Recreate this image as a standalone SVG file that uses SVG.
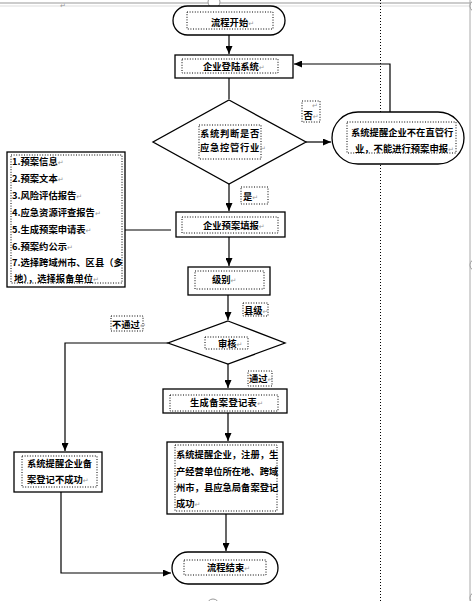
<svg xmlns="http://www.w3.org/2000/svg" width="472" height="601" viewBox="0 0 472 601">
<style>
.box{fill:#fff;stroke:#000;stroke-width:1.3}
.in{fill:none;stroke:#000;stroke-width:1;stroke-dasharray:1 1.6}
.t{font-family:"Noto Sans CJK SC","Noto Sans",sans-serif;font-size:9.3px;font-weight:bold;fill:#000}
.pm{font-family:"DejaVu Sans",sans-serif;font-size:7px;font-weight:normal;fill:#999}
.ln{fill:none;stroke:#000;stroke-width:1.2}
.deco{fill:none;stroke:#aaa;stroke-width:1}
</style>
<defs>
<marker id="ah" markerUnits="userSpaceOnUse" markerWidth="8" markerHeight="7" refX="8" refY="3.5" orient="auto">
<path d="M0,0 L8,3.5 L0,7 z" fill="#000"/>
</marker>
</defs>
<rect width="472" height="601" fill="#fff"/>
<g id="page-decor">
<line x1="0" y1="3" x2="472" y2="3" stroke="#999" stroke-width="1"/>
<line x1="0" y1="6" x2="472" y2="6" stroke="#ddd" stroke-width="1"/>
<line x1="470" y1="0" x2="470" y2="601" class="deco"/>
<line x1="380.5" y1="0" x2="380.5" y2="601" stroke="#000" stroke-width="1" stroke-dasharray="1 2"/>
<circle cx="214" cy="2" r="6" fill="#fff" stroke="#999"/>
<circle cx="476" cy="6" r="6" fill="#fff" stroke="#999"/>
<circle cx="476" cy="265" r="6" fill="#fff" stroke="#999"/>
<circle cx="476" cy="598" r="6" fill="#fff" stroke="#999"/>
<circle cx="213" cy="605" r="6" fill="#fff" stroke="#999"/>
<text x="60" y="8" class="pm">↵</text>
</g>
<g id="connectors">
<line x1="229" y1="35" x2="229" y2="54" class="ln" marker-end="url(#ah)"/>
<line x1="229" y1="78" x2="229" y2="99" class="ln"/>
<line x1="306" y1="142" x2="331" y2="142" class="ln" marker-end="url(#ah)"/>
<polyline points="390,112 390,64 294,64" class="ln" marker-end="url(#ah)"/>
<line x1="229" y1="184" x2="229" y2="211" class="ln" marker-end="url(#ah)"/>
<line x1="125" y1="230" x2="171" y2="230" class="ln"/>
<line x1="229" y1="237" x2="229" y2="266" class="ln" marker-end="url(#ah)"/>
<line x1="228" y1="295" x2="228" y2="320" class="ln" marker-end="url(#ah)"/>
<polyline points="168,343 65,343 65,451" class="ln" marker-end="url(#ah)"/>
<line x1="228" y1="363" x2="228" y2="388" class="ln" marker-end="url(#ah)"/>
<line x1="228" y1="413" x2="228" y2="441" class="ln" marker-end="url(#ah)"/>
<polyline points="61,492 61,573 171,573" class="ln" marker-end="url(#ah)"/>
<line x1="226" y1="514" x2="226" y2="551" class="ln" marker-end="url(#ah)"/>
</g>
<g id="start">
<rect x="173" y="6" width="112" height="29" rx="14.5" class="box"/>
<rect x="187" y="12" width="86" height="17" class="in"/>
<text x="211" y="25.5" class="t">流程开始<tspan class="pm">↵</tspan></text>
</g>
<g id="login">
<rect x="175" y="55" width="118" height="23" class="box"/>
<rect x="182" y="59" width="96" height="14" class="in"/>
<text x="203" y="70" class="t">企业登陆系统<tspan class="pm">↵</tspan></text>
</g>
<g id="judge">
<polygon points="229,100 306,142 229,184 153,142" class="box"/>
<rect x="199" y="125" width="62" height="34" class="in"/>
<text x="200" y="137" class="t" letter-spacing="0.7">系统判断是否</text>
<text x="200" y="151" class="t" letter-spacing="0.7">应急控管行业<tspan class="pm">↵</tspan></text>
</g>
<g id="label-no">
<rect x="302" y="101" width="18" height="21" class="in"/>
<text x="312" y="108" class="pm">↵</text>
<text x="303.5" y="119" class="t">否<tspan class="pm">↵</tspan></text>
</g>
<g id="not-managed">
<rect x="332" y="112" width="132" height="52" rx="26" class="box"/>
<rect x="347" y="122" width="109" height="31" class="in"/>
<text x="351" y="135.5" class="t">系统提醒企业不在直管行</text>
<text x="355" y="151.5" class="t">业，不能进行预案申报<tspan class="pm">↵</tspan></text>
</g>
<g id="label-yes">
<rect x="241" y="187" width="27" height="17" class="in"/>
<text x="243" y="199.5" class="t">是<tspan class="pm">↵</tspan></text>
</g>
<g id="list">
<rect x="7" y="152" width="118" height="135" class="box"/>
<rect x="11" y="155" width="111" height="128" class="in"/>
<text x="12" y="165" class="t">1.预案信息<tspan class="pm">↵</tspan></text>
<text x="12" y="182" class="t">2.预案文本<tspan class="pm">↵</tspan></text>
<text x="12" y="199" class="t">3.风险评估报告<tspan class="pm">↵</tspan></text>
<text x="12" y="216" class="t">4.应急资源评查报告<tspan class="pm">↵</tspan></text>
<text x="12" y="233" class="t">5.生成预案申请表<tspan class="pm">↵</tspan></text>
<text x="12" y="250" class="t">6.预案约公示<tspan class="pm">↵</tspan></text>
<text x="12" y="266" class="t">7.选择跨域州市、区县（多</text>
<text x="14" y="282" class="t">地），选择报备单位<tspan class="pm">↵</tspan></text>
</g>
<g id="fill-report">
<rect x="176" y="212" width="109" height="25" class="box"/>
<rect x="182" y="217" width="96" height="16" class="in"/>
<text x="203" y="229" class="t">企业预案填报<tspan class="pm">↵</tspan></text>
</g>
<g id="level">
<rect x="188" y="267" width="82" height="28" class="box"/>
<rect x="195" y="271" width="69" height="18" class="in"/>
<text x="212" y="283" class="t">级别<tspan class="pm">↵</tspan></text>
</g>
<g id="label-county">
<rect x="243" y="303" width="25" height="13" class="in"/>
<text x="244" y="313.5" class="t">县级<tspan class="pm">↵</tspan></text>
</g>
<g id="review">
<polygon points="228,321 285,343 228,364 168,343" class="box"/>
<rect x="205" y="337" width="43" height="12" class="in"/>
<text x="218" y="347" class="t">审核<tspan class="pm">↵</tspan></text>
</g>
<g id="label-fail">
<rect x="111" y="316" width="32" height="15" class="in"/>
<text x="112" y="328" class="t">不通过<tspan class="pm">↵</tspan></text>
</g>
<g id="label-pass">
<rect x="248" y="371" width="24" height="15" class="in"/>
<text x="249" y="382" class="t">通过<tspan class="pm">↵</tspan></text>
</g>
<g id="gen-form">
<rect x="163" y="389" width="124" height="24" class="box"/>
<rect x="170" y="395" width="108" height="16" class="in"/>
<text x="190" y="406" class="t" letter-spacing="0.3">生成备案登记表<tspan class="pm">↵</tspan></text>
</g>
<g id="fail-box">
<rect x="14" y="452" width="88" height="40" class="box"/>
<rect x="22" y="456" width="75" height="31" class="in"/>
<text x="27" y="467" class="t">系统提醒企业备</text>
<text x="27" y="483" class="t">案登记不成功<tspan class="pm">↵</tspan></text>
</g>
<g id="success-box">
<rect x="167" y="442" width="116" height="72" class="box"/>
<rect x="175" y="445" width="102" height="66" class="in"/>
<text x="176" y="458" class="t">系统提醒企业，注册，生</text>
<text x="176" y="475" class="t">产经营单位所在地、跨域</text>
<text x="176" y="491" class="t">州市，县应急局备案登记</text>
<text x="176" y="507" class="t">成功<tspan class="pm">↵</tspan></text>
</g>
<g id="end">
<rect x="172" y="552" width="106" height="32" rx="16" class="box"/>
<rect x="184" y="560" width="82" height="15" class="in"/>
<text x="207" y="571" class="t">流程结束<tspan class="pm">↵</tspan></text>
</g>
</svg>
